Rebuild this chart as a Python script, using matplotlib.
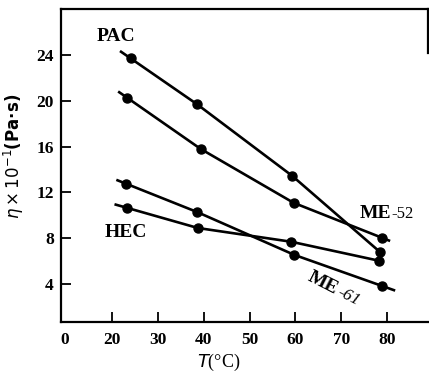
import numpy as np
import matplotlib.pyplot as plt

# viscosity vs temperature for four fluids
temps_pac = [24.0, 38.5, 59.3, 78.5]
eta_pac = [23.7, 19.7, 13.45, 6.8]

temps_me52 = [23.3, 39.3, 59.6, 78.9]
eta_me52 = [20.25, 15.8, 11.1, 8.05]

temps_hec = [23.3, 38.7, 59.1, 78.2]
eta_hec = [10.65, 8.9, 7.7, 6.05]

temps_me61 = [23.1, 38.5, 59.8, 78.9]
eta_me61 = [12.75, 10.3, 6.55, 3.85]

x_ticks = [20, 30, 40, 50, 60, 70, 80]
y_ticks = [4, 8, 12, 16, 20, 24]

serif = "Liberation Serif"


def extended(xs, ys, pre, post):
    # stretch the first and last segment a little past the end points
    xs = np.array(xs, float)
    ys = np.array(ys, float)
    s0 = (ys[1] - ys[0]) / (xs[1] - xs[0])
    s1 = (ys[-1] - ys[-2]) / (xs[-1] - xs[-2])
    xe = np.concatenate([[xs[0] - pre], xs, [xs[-1] + post]])
    ye = np.concatenate([[ys[0] - s0 * pre], ys, [ys[-1] + s1 * post]])
    return xe, ye


fig = plt.figure(figsize=(4.29, 3.74), dpi=100)
ax = fig.add_axes([0.142, 0.139, 0.856, 0.837])

series = [
    (temps_pac, eta_pac, 2.3, 0.3),
    (temps_me52, eta_me52, 2.0, 1.8),
    (temps_hec, eta_hec, 2.8, 0.2),
    (temps_me61, eta_me61, 2.2, 2.9),
]
for xs, ys, pre, post in series:
    xe, ye = extended(xs, ys, pre, post)
    ax.plot(xe, ye, color="black", lw=1.9, solid_capstyle="butt")
    ax.plot(xs, ys, "o", color="black", ms=6.5)

ax.set_xlim(8.8, 89)
ax.set_ylim(0.7, 28)

for side in ["left", "bottom", "top", "right"]:
    ax.spines[side].set_linewidth(1.6)
ax.spines["right"].set_bounds(24.2, 28)

ax.set_xticks([9.7] + x_ticks)
ax.set_xticklabels(["0"] + [str(v) for v in x_ticks])
ax.xaxis.get_major_ticks()[0].tick1line.set_visible(False)
ax.set_yticks(y_ticks)
ax.tick_params(axis="both", direction="in", length=7, width=1.3,
               top=False, right=False)
ax.tick_params(axis="x", pad=7)
ax.tick_params(axis="y", pad=5)
for lab in ax.get_xticklabels() + ax.get_yticklabels():
    lab.set_fontfamily(serif)
    lab.set_fontweight("bold")
    lab.set_fontsize(12.5)

ax.set_xlabel(r"$\mathit{T}$(°C)", fontfamily=serif, fontsize=13)
ax.set_ylabel(r"$\eta\times10^{-1}$(Pa·s)", fontsize=12, fontweight="bold")
ax.yaxis.set_label_coords(-0.095, 0.53)
ax.xaxis.set_label_coords(0.43, -0.095)

ax.text(16.7, 25.2, "PAC", fontfamily=serif, fontweight="bold", fontsize=14)
ax.text(18.4, 8.1, "HEC", fontfamily=serif, fontweight="bold", fontsize=14)

# ME-52 with a smaller suffix
ax.text(74.1, 9.8, "ME", fontfamily=serif, fontweight="bold", fontsize=14)
ax.annotate("-52", xy=(74.1, 9.8), xytext=(23, 0), textcoords="offset points",
            fontfamily=serif, fontsize=12, va="baseline")

# ME-61 slanted along its line
rot = -27
ax.text(62.4, 4.4, "ME", fontfamily=serif, fontweight="bold", fontsize=14,
        rotation=rot, rotation_mode="anchor", va="baseline")
off = 24
ax.annotate("-61", xy=(62.4, 4.4),
            xytext=(off * np.cos(np.radians(rot)), off * np.sin(np.radians(rot))),
            textcoords="offset points", fontfamily=serif, fontsize=12.5,
            fontstyle="italic", rotation=rot, rotation_mode="anchor",
            va="baseline")

fig.savefig("out.png", dpi=100)
